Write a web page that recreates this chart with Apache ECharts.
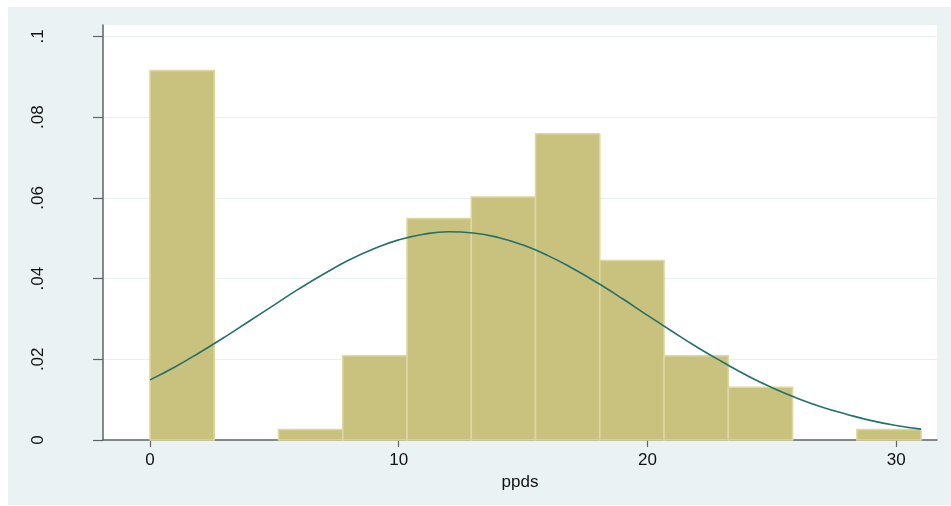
<!DOCTYPE html>
<html>
<head>
<meta charset="utf-8">
<style>
  html, body { margin: 0; padding: 0; background: #ffffff; }
  #chart { width: 951px; height: 506px; }
</style>
<script src="https://cdn.jsdelivr.net/npm/echarts@6/dist/echarts.min.js"></script>
</head>
<body>
<div id="chart"></div>
<script>
// Histogram of ppds (density scale) with a normal density overlay.

// Bin edges of the histogram (12 equal-width bins from 0 to 31)
const binEdges = [0, 2.583, 5.167, 7.75, 10.333, 12.917, 15.5, 18.083, 20.667, 23.25, 25.833, 28.417, 31];
// Density of each bin
const binDensity = [0.0916, 0, 0.0026, 0.0209, 0.0549, 0.0602, 0.0759, 0.0445, 0.0209, 0.0131, 0, 0.0026];

// Normal density curve, sampled at whole ppds values
const curveX = [0, 1, 2, 3, 4, 5, 6, 7, 8, 9, 10, 11, 12, 13, 14, 15,
                16, 17, 18, 19, 20, 21, 22, 23, 24, 25, 26, 27, 28, 29, 30, 31];
const curveY = [0.0149, 0.0181, 0.0217, 0.0255, 0.0295, 0.0335, 0.0375, 0.0412,
                0.0446, 0.0474, 0.0496, 0.0510, 0.0516, 0.0513, 0.0502, 0.0483,
                0.0457, 0.0425, 0.0389, 0.0350, 0.0309, 0.0269, 0.0230, 0.0194,
                0.0160, 0.0130, 0.0104, 0.0082, 0.0064, 0.0048, 0.0036, 0.0027];

// Axis ticks
const xTicks = [0, 10, 20, 30];
const yTicks = [0, 0.02, 0.04, 0.06, 0.08, 0.1];
const yTickLabels = ['0', '.02', '.04', '.06', '.08', '.1'];

const bars = binDensity.map((d, i) => [binEdges[i], binEdges[i + 1], d]);
const curve = curveX.map((x, i) => [x, curveY[i]]);

const axisGray = '#5f6466';
const gridColor = '#e8f0f2';
const fontFamily = '"Liberation Sans", Arial, sans-serif';

const chart = echarts.init(document.getElementById('chart'), null, { renderer: 'canvas' });

chart.setOption({
  backgroundColor: 'transparent',
  animation: false,
  graphic: [{
    type: 'rect',
    z: -10,
    silent: true,
    shape: { x: 8, y: 7, width: 943, height: 498 },
    style: { fill: '#eaf2f3' }
  }],
  grid: {
    left: 103, right: 14, top: 25, bottom: 66,
    show: true,
    backgroundColor: '#ffffff',
    borderWidth: 0
  },
  xAxis: {
    type: 'value',
    min: -1.89,
    max: 31.64,
    name: 'ppds',
    nameLocation: 'middle',
    nameGap: 28,
    nameTextStyle: { fontFamily, fontSize: 17, color: '#111111' },
    axisLine: { show: true, onZero: false, lineStyle: { color: axisGray, width: 1.5 } },
    axisTick: { show: true, length: 7, customValues: xTicks, lineStyle: { color: axisGray, width: 1.2 } },
    axisLabel: {
      customValues: xTicks,
      margin: 12,
      fontFamily, fontSize: 17, color: '#111111'
    },
    splitLine: { show: false }
  },
  yAxis: {
    type: 'value',
    min: 0,
    max: 0.10285,
    axisLine: { show: true, onZero: false, lineStyle: { color: axisGray, width: 1.5 } },
    axisTick: { show: true, length: 10, customValues: yTicks, lineStyle: { color: axisGray, width: 1.2 } },
    axisLabel: {
      customValues: yTicks,
      rotate: 90,
      margin: 56,
      fontFamily, fontSize: 17, color: '#111111',
      formatter: (v) => {
        const i = yTicks.findIndex(t => Math.abs(t - v) < 1e-9);
        return i >= 0 ? yTickLabels[i] : '';
      }
    },
    splitLine: { show: true, lineStyle: { color: gridColor, width: 1.2 } }
  },
  series: [
    {
      type: 'custom',
      name: 'Density',
      data: bars,
      encode: { x: [0, 1], y: 2 },
      clip: false,
      z: 2,
      renderItem: (params, api) => {
        const p0 = api.coord([api.value(0), 0]);
        const p1 = api.coord([api.value(1), api.value(2)]);
        const h = p0[1] - p1[1];
        if (h <= 0) return null;
        return {
          type: 'rect',
          shape: { x: p0[0], y: p1[1], width: p1[0] - p0[0], height: h },
          style: { fill: '#c9c27f', stroke: '#ddd8a2', lineWidth: 1.5 }
        };
      }
    },
    {
      type: 'line',
      name: 'Normal density',
      data: curve,
      smooth: true,
      showSymbol: false,
      symbol: 'none',
      clip: false,
      z: 3,
      lineStyle: { color: '#24706a', width: 1.6 }
    }
  ]
});
</script>
</body>
</html>
